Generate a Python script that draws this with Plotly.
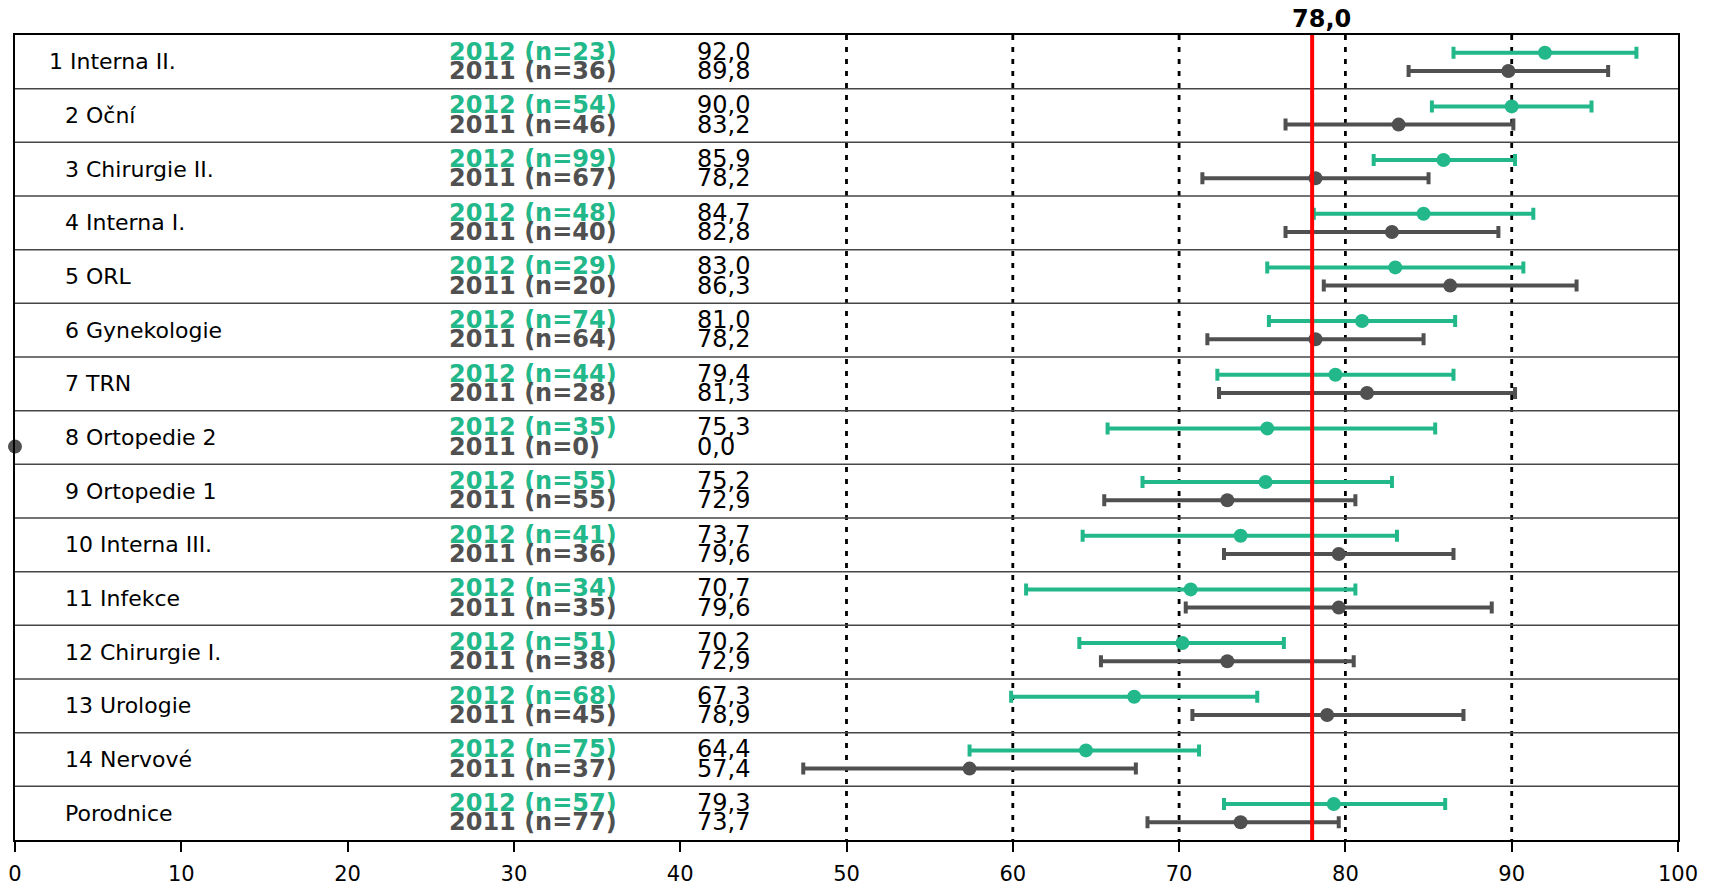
import plotly.graph_objects as go

departments = ["1 Interna II.", "2 Oční", "3 Chirurgie II.", "4 Interna I.", "5 ORL",
               "6 Gynekologie", "7 TRN", "8 Ortopedie 2", "9 Ortopedie 1", "10 Interna III.",
               "11 Infekce", "12 Chirurgie I.", "13 Urologie", "14 Nervové", "Porodnice"]
n_2012 = [23, 54, 99, 48, 29, 74, 44, 35, 55, 41, 34, 51, 68, 75, 57]
n_2011 = [36, 46, 67, 40, 20, 64, 28, 0, 55, 36, 35, 38, 45, 37, 77]
val_2012 = [92.0, 90.0, 85.9, 84.7, 83.0, 81.0, 79.4, 75.3, 75.2, 73.7, 70.7, 70.2, 67.3, 64.4, 79.3]
val_2011 = [89.8, 83.2, 78.2, 82.8, 86.3, 78.2, 81.3, 0.0, 72.9, 79.6, 79.6, 72.9, 78.9, 57.4, 73.7]
lo_2012 = [86.5, 85.2, 81.7, 78.1, 75.3, 75.4, 72.3, 65.7, 67.8, 64.2, 60.8, 64.0, 59.9, 57.4, 72.7]
hi_2012 = [97.5, 94.8, 90.2, 91.3, 90.7, 86.6, 86.5, 85.4, 82.8, 83.1, 80.6, 76.3, 74.7, 71.2, 86.0]
lo_2011 = [83.8, 76.4, 71.4, 76.4, 78.7, 71.7, 72.4, None, 65.5, 72.7, 70.4, 65.3, 70.8, 47.4, 68.1]
hi_2011 = [95.8, 90.1, 85.0, 89.2, 93.9, 84.7, 90.2, None, 80.6, 86.5, 88.8, 80.5, 87.1, 67.4, 79.6]
reference_value = 78.0
x_ticks = [0, 10, 20, 30, 40, 50, 60, 70, 80, 90, 100]
grid_values = [50, 60, 70, 80, 90]

GREEN = "rgb(34,184,138)"
GRAY = "rgb(80,80,80)"
FONT = "DejaVu Sans"
N = len(departments)


def fmt(v):
    return f"{v:.1f}".replace(".", ",")


fig = go.Figure()

Y12 = 0.33
Y11 = 0.67

# 2011 series (with CI) - rows without data get only a marker
idx_ci = [i for i in range(N) if lo_2011[i] is not None]
fig.add_trace(go.Scatter(
    x=[val_2011[i] for i in idx_ci],
    y=[i + Y11 for i in idx_ci],
    mode="markers",
    marker=dict(color=GRAY, size=14),
    error_x=dict(type="data", symmetric=False,
                 array=[hi_2011[i] - val_2011[i] for i in idx_ci],
                 arrayminus=[val_2011[i] - lo_2011[i] for i in idx_ci],
                 color=GRAY, thickness=4, width=6),
    cliponaxis=False, showlegend=False, hoverinfo="skip"))
idx_no = [i for i in range(N) if lo_2011[i] is None]
fig.add_trace(go.Scatter(
    x=[val_2011[i] for i in idx_no],
    y=[i + Y11 for i in idx_no],
    mode="markers",
    marker=dict(color=GRAY, size=14),
    cliponaxis=False, showlegend=False, hoverinfo="skip"))

# 2012 series
fig.add_trace(go.Scatter(
    x=val_2012,
    y=[i + Y12 for i in range(N)],
    mode="markers",
    marker=dict(color=GREEN, size=14),
    error_x=dict(type="data", symmetric=False,
                 array=[h - v for h, v in zip(hi_2012, val_2012)],
                 arrayminus=[v - l for v, l in zip(val_2012, lo_2012)],
                 color=GREEN, thickness=4, width=6),
    cliponaxis=False, showlegend=False, hoverinfo="skip"))

shapes = []
for g in grid_values:
    shapes.append(dict(type="line", xref="x", yref="y", x0=g, x1=g, y0=0, y1=N,
                       line=dict(color="black", width=2.8, dash="5px,7px"), layer="below"))
for r in range(1, N):
    shapes.append(dict(type="line", xref="x", yref="y", x0=0, x1=100, y0=r, y1=r,
                       line=dict(color="rgb(70,70,70)", width=1.5), layer="below"))
shapes.append(dict(type="line", xref="x", yref="y", x0=reference_value, x1=reference_value,
                   y0=0, y1=N, line=dict(color="red", width=4), layer="above"))

annotations = []
for i, name in enumerate(departments):
    annotations.append(dict(x=1.9 if i == 0 else 2.9, y=i + 0.5, xref="x", yref="y",
                            text=name, showarrow=False, xanchor="left", yanchor="middle",
                            font=dict(family=FONT, size=22, color="black")))
    annotations.append(dict(x=25.95, y=i + 0.31, xref="x", yref="y",
                            text=f"<b>2012 (n={n_2012[i]})</b>", showarrow=False,
                            xanchor="left", yanchor="middle",
                            font=dict(family=FONT, size=24, color=GREEN)))
    annotations.append(dict(x=25.95, y=i + 0.67, xref="x", yref="y",
                            text=f"<b>2011 (n={n_2011[i]})</b>", showarrow=False,
                            xanchor="left", yanchor="middle",
                            font=dict(family=FONT, size=24, color=GRAY)))
    annotations.append(dict(x=40.9, y=i + 0.31, xref="x", yref="y",
                            text=fmt(val_2012[i]), showarrow=False,
                            xanchor="left", yanchor="middle",
                            font=dict(family=FONT, size=24, color="black")))
    annotations.append(dict(x=40.9, y=i + 0.67, xref="x", yref="y",
                            text=fmt(val_2011[i]), showarrow=False,
                            xanchor="left", yanchor="middle",
                            font=dict(family=FONT, size=24, color="black")))
annotations.append(dict(x=reference_value, y=1, xref="x", yref="paper",
                        text=f"<b>{fmt(reference_value)}</b>", showarrow=False,
                        xanchor="center", yanchor="bottom", xshift=9, yshift=0,
                        font=dict(family=FONT, size=24, color="black")))

fig.update_layout(
    width=1716, height=888,
    margin=dict(l=15, r=38, t=35, b=48, autoexpand=False),
    paper_bgcolor="white", plot_bgcolor="white",
    shapes=shapes, annotations=annotations,
    xaxis=dict(range=[0, 100], tickvals=x_ticks, ticktext=[str(t) for t in x_ticks],
               showgrid=False, zeroline=False, showline=True, linecolor="black",
               linewidth=1.5, mirror=True, ticks="outside", ticklen=10,
               tickcolor="black", tickwidth=1.5, automargin=False,
               tickfont=dict(family=FONT, size=21, color="black"), ticklabelstandoff=4),
    yaxis=dict(range=[N, 0], showgrid=False, zeroline=False, showticklabels=False,
               showline=True, linecolor="black", linewidth=1.5, mirror=True, ticks="",
               automargin=False),
)

fig.write_html("out.html")
